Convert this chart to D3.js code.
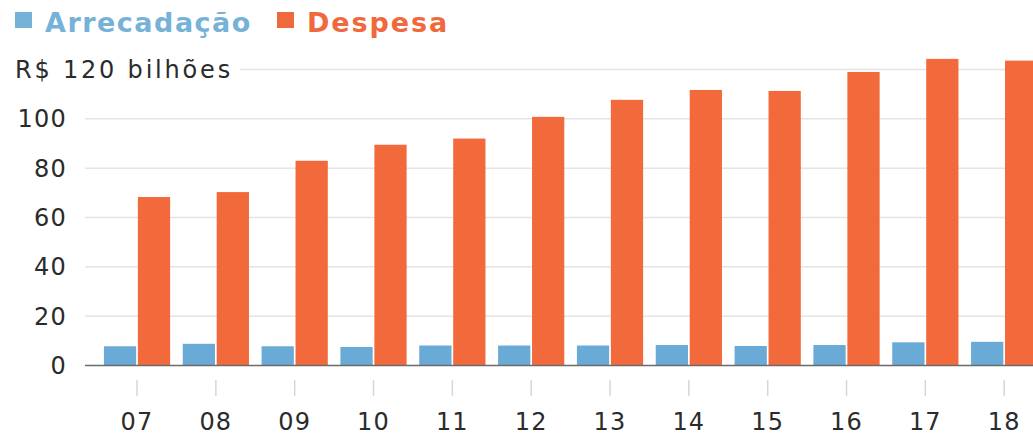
<!DOCTYPE html>
<html>
<head>
<meta charset="utf-8">
<script src="https://cdn.jsdelivr.net/npm/d3@7"></script>
<style>
  html, body { margin: 0; padding: 0; background: #fff; }
  svg { display: block; font-family: "DejaVu Sans", "Noto Sans", sans-serif; }
</style>
</head>
<body>
<svg id="chart" width="1033" height="436"></svg>
<script>
const years = ["07","08","09","10","11","12","13","14","15","16","17","18"];
const arrecadacao = [7.8, 8.8, 7.8, 7.5, 8.1, 8.1, 8.1, 8.3, 7.9, 8.3, 9.4, 9.6];
const despesa = [68.3, 70.3, 83.0, 89.5, 92.0, 100.8, 107.7, 111.7, 111.3, 119.0, 124.3, 123.6];
const yTicks = [0, 20, 40, 60, 80, 100, 120];
const seriesNames = ["Arrecadação", "Despesa"];
const seriesKeys = ["arr", "desp"];
const colors = ["#6aaad6", "#f26a3b"];
const legendColors = ["#76b2d8", "#f0693c"];

const svg = d3.select("#chart");

const y = d3.scaleLinear().domain([0, 120]).range([365.5, 69.5]);
const x = d3.scaleBand().domain(years).range([97.6, 1043.6]).paddingInner(0.16).paddingOuter(0.08);
const xs = d3.scaleBand().domain(seriesKeys).range([0, x.bandwidth()]).paddingInner(0.05);

// gridlines
svg.append("g").selectAll("line")
  .data(yTicks.filter(d => d > 0))
  .join("line")
  .attr("x1", d => d === 120 ? 240 : 85)
  .attr("x2", 1033)
  .attr("y1", d => y(d)).attr("y2", d => y(d))
  .attr("stroke", "#e4e4e4").attr("stroke-width", 1.5);

// y labels
svg.append("g").selectAll("text")
  .data(yTicks)
  .join("text")
  .attr("x", d => d === 120 ? 15 : 67)
  .attr("y", d => y(d))
  .attr("dy", "0.36em")
  .attr("text-anchor", d => d === 120 ? "start" : "end")
  .attr("font-size", 24)
  .attr("letter-spacing", d => d === 120 ? 2.8 : 1.2)
  .attr("fill", "#2b2b2b")
  .text(d => d === 120 ? "R$ 120 bilhões" : d);

// bars
const groups = svg.append("g").selectAll("g")
  .data(years.map((yr, i) => ({ yr, vals: [arrecadacao[i], despesa[i]] })))
  .join("g")
  .attr("transform", d => `translate(${x(d.yr)},0)`);

groups.selectAll("rect")
  .data(d => d.vals.map((v, j) => ({ v, key: seriesKeys[j], j })))
  .join("rect")
  .attr("x", d => xs(d.key))
  .attr("width", xs.bandwidth())
  .attr("y", d => y(d.v))
  .attr("height", d => y(0) - y(d.v))
  .attr("fill", d => colors[d.j]);

// baseline
svg.append("line")
  .attr("x1", 85).attr("x2", 1033)
  .attr("y1", y(0)).attr("y2", y(0))
  .attr("stroke", "#6b6b6b").attr("stroke-width", 1.5);

// x axis
const xAxis = d3.axisBottom(x).tickSize(16).tickPadding(20);
const gx = svg.append("g").attr("transform", "translate(0,380)").call(xAxis);
gx.select(".domain").remove();
gx.selectAll(".tick line").attr("stroke", "#d6d6d6").attr("stroke-width", 1.5);
gx.selectAll(".tick text")
  .attr("y", 50).attr("dy", 0)
  .attr("font-size", 24)
  .attr("letter-spacing", 1.2)
  .attr("fill", "#2b2b2b")
  .attr("font-family", "'DejaVu Sans', 'Noto Sans', sans-serif");

// legend
const leg = svg.append("g");
const legX = [15, 277];
seriesNames.forEach((name, i) => {
  leg.append("rect").attr("x", legX[i]).attr("y", 12).attr("width", 17).attr("height", 16).attr("fill", legendColors[i]);
  leg.append("text").attr("x", legX[i] + 30).attr("y", 32)
    .attr("font-size", 27).attr("font-weight", "bold").attr("fill", legendColors[i])
    .attr("letter-spacing", i === 0 ? 1.5 : 1.9)
    .text(name);
});
</script>
</body>
</html>
